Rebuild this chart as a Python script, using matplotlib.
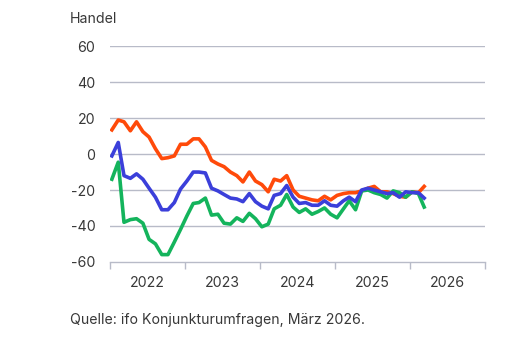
import numpy as np
import pandas as pd
import matplotlib
matplotlib.use("Agg")
import matplotlib.pyplot as plt
import matplotlib.dates as mdates
from matplotlib.ticker import FixedLocator, NullFormatter, FixedFormatter

plt.rcParams['font.family'] = ['Inter', 'DejaVu Sans']

# monthly ifo values, Jan 2022 .. Mar 2026
months = pd.date_range('2022-01-01', periods=51, freq='MS')

lage = [13.5, 19, 18, 13, 18, 12.5, 9.5, 3, -2.5, -2, -1, 5.5,
        5.5, 8.5, 8.5, 4, -3.5, -5.5, -7, -10, -12, -15.5, -10, -15,
        -17, -21, -14, -15, -12, -20, -23.5, -24.5, -25.5, -26, -23.5, -25.5,
        -23, -22, -21.5, -21.5, -20.5, -19, -18, -21, -21, -22, -23.5, -24,
        -21, -21.5, -18]

klima = [-1, 6.5, -12, -13.5, -11, -14, -19, -24, -31, -31, -27, -19.5,
         -15, -10, -10, -10.5, -19, -20.5, -22.5, -24.5, -25, -26.5, -22, -26.5,
         -29, -30.5, -23, -22, -17.5, -24, -27.5, -27, -28.5, -28.5, -26, -28.5,
         -29, -26, -24, -26.5, -20, -19, -20, -21, -22, -21.5, -24, -21,
         -21.5, -21.5, -24.5]

erwartungen = [-14, -4.5, -38, -36.5, -36, -38.5, -47.5, -50, -56, -56, -49, -42,
               -34.5, -27.5, -27, -24.5, -34, -33.5, -38.5, -39, -35.5, -37.5, -33, -36,
               -40.5, -39, -30.5, -28.5, -22.5, -29.5, -32.5, -30.5, -33.5, -32, -30, -33.5,
               -35.5, -30.5, -26, -31, -20.5, -20, -21.5, -22.5, -24.5, -20.5, -21.5, -24,
               -21, -22, -29.5]

years = [2022, 2023, 2024, 2025, 2026]
yticks = [-60, -40, -20, 0, 20, 40, 60]

c_lage = '#FF4A0A'
c_klima = '#3B3FDA'
c_erw = '#14B45C'
c_grid = '#B8BBC8'
c_text = '#383838'
fs = 10.2

fig = plt.figure(figsize=(5.07, 3.44), dpi=100)
ax = fig.add_axes([0.217, 0.239, 0.740, 0.626])

x = mdates.date2num(months) + 9

ax.plot(x, lage, color=c_lage, lw=2.6, solid_joinstyle='round', zorder=3)
ax.plot(x, erwartungen, color=c_erw, lw=2.6, solid_joinstyle='round', zorder=4)
ax.plot(x, klima, color=c_klima, lw=2.6, solid_joinstyle='round', zorder=5)

ax.set_ylim(-60, 60)
ax.set_xlim(mdates.date2num(pd.Timestamp('2022-01-01')),
            mdates.date2num(pd.Timestamp('2027-01-01')))

ax.set_yticks(yticks)
ax.set_yticklabels([str(v) for v in yticks])
ax.tick_params(axis='y', length=0, pad=10.5, labelsize=fs, labelcolor=c_text)
for v in yticks[1:]:
    ax.axhline(v, color=c_grid, lw=1, zorder=1)

edges = [mdates.date2num(pd.Timestamp(f'{y}-01-01')) for y in years + [2027]]
mids = [mdates.date2num(pd.Timestamp(f'{y}-07-01')) for y in years]
ax.xaxis.set_major_locator(FixedLocator(edges))
ax.xaxis.set_major_formatter(NullFormatter())
ax.xaxis.set_minor_locator(FixedLocator(mids))
ax.xaxis.set_minor_formatter(FixedFormatter([str(y) for y in years]))
ax.tick_params(axis='x', which='major', length=5, width=1, color=c_grid)
ax.tick_params(axis='x', which='minor', length=0, pad=10, labelsize=fs, labelcolor=c_text)

for s in ['top', 'right', 'left']:
    ax.spines[s].set_visible(False)
ax.spines['bottom'].set_color(c_grid)
ax.spines['bottom'].set_linewidth(1)

fig.text(70 / 507, 1 - 19 / 344, 'Handel', fontsize=fs, color=c_text, va='center', ha='left')
fig.text(70 / 507, 1 - 320 / 344, 'Quelle: ifo Konjunkturumfragen, März 2026.',
         fontsize=fs, color=c_text, va='center', ha='left')

fig.savefig('out.png', dpi=100)
